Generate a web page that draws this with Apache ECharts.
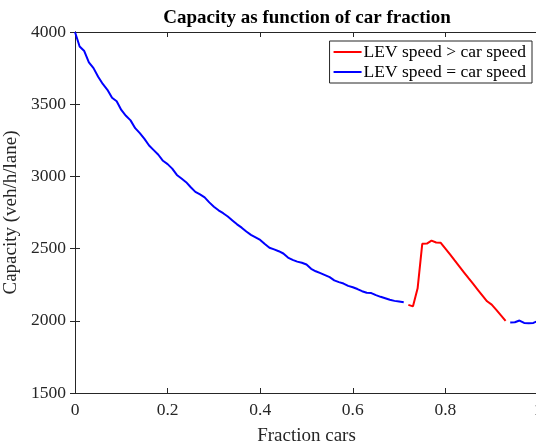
<!DOCTYPE html>
<html>
<head>
<meta charset="utf-8">
<script src="https://cdn.jsdelivr.net/npm/echarts@6/dist/echarts.min.js"></script>
<style>html,body{margin:0;padding:0;background:#fff;}#c{width:536px;height:445px;}</style>
</head>
<body>
<div id="c"></div>
<script>
// Data
const fractions = [];
for (let i = 0; i <= 100; i++) fractions.push(+(i / 100).toFixed(2));

const blueLow = [4000,3900,3868,3790,3750,3690,3640,3600,3545,3520,
  3460,3420,3388,3334,3300,3260,3214,3182,3150,3108,
  3085,3054,3010,2985,2960,2925,2893,2875,2855,2820,
  2790,2765,2745,2722,2695,2668,2645,2618,2595,2578,
  2560,2532,2506,2495,2482,2466,2438,2422,2410,2402,
  2390,2360,2343,2330,2316,2302,2280,2268,2258,2242,
  2232,2220,2205,2194,2192,2178,2166,2156,2146,2138,
  2133,2128]; // fractions 0.00 .. 0.71
const redValues = [2110,2100,2225,2533,2535,2555,2542,2540,2500,2460,
  2418,2377,2336,2295,2255,2215,2175,2135,2112,2075,2038,2000]; // 0.72 .. 0.93
const blueHigh = [1988,1990,2002,1985,1983,1985,2000]; // 0.94 .. 1.00

const xTicks = [0, 0.2, 0.4, 0.6, 0.8, 1];
const yTicks = [1500, 2000, 2500, 3000, 3500, 4000];

const blueData = [], redData = [];
fractions.forEach((f, i) => {
  let b = '-', r = '-';
  if (i <= 71) b = blueLow[i];
  else if (i <= 93) r = redValues[i - 72];
  else b = blueHigh[i - 94];
  blueData.push([f, b]);
  redData.push([f, r]);
});

const axisColor = '#262626';
const font = 'Liberation Serif';
const chart = echarts.init(document.getElementById('c'), null, {renderer: 'canvas'});
const xBase = {
  type: 'value', min: 0, max: 1, interval: 0.2,
  axisLine: {show: true, lineStyle: {color: axisColor, width: 1}},
  axisTick: {show: true, inside: true, length: 5, lineStyle: {color: axisColor}},
  splitLine: {show: false}
};
const yBase = {
  type: 'value', min: 1500, max: 4000, interval: 500,
  axisLine: {show: true, lineStyle: {color: axisColor, width: 1}},
  axisTick: {show: true, inside: true, length: 5, lineStyle: {color: axisColor}},
  splitLine: {show: false}
};
chart.setOption({
  backgroundColor: '#fff',
  animation: false,
  title: {
    text: 'Capacity as function of car fraction',
    left: 302, top: 4, textAlign: 'center',
    textStyle: {fontFamily: font, fontWeight: 'bold', fontSize: 19, color: '#000'}
  },
  grid: {left: 75, right: -2, top: 32, bottom: 52, outerBoundsMode: 'none', containLabel: false},
  legend: {
    orient: 'vertical', right: 4, top: 41,
    backgroundColor: '#fff', borderColor: axisColor, borderWidth: 1,
    padding: [2, 6, 2, 4], itemGap: 2, itemWidth: 28, itemHeight: 2,
    icon: 'rect',
    textStyle: {fontFamily: font, fontSize: 17.5, color: '#000', padding: [0, 0, 0, -3]},
    data: ['LEV speed > car speed', 'LEV speed = car speed']
  },
  xAxis: [
    Object.assign({}, xBase, {
      position: 'bottom',
      name: 'Fraction cars', nameLocation: 'middle', nameGap: 34,
      nameTextStyle: {fontFamily: font, fontSize: 19, color: axisColor},
      axisLabel: {fontFamily: font, fontSize: 17.5, color: axisColor, margin: 8,
        formatter: v => xTicks.includes(+v.toFixed(2)) ? String(+v.toFixed(2)) : ''}
    }),
    Object.assign({}, xBase, {position: 'top', axisLabel: {show: false}})
  ],
  yAxis: [
    Object.assign({}, yBase, {
      position: 'left',
      name: 'Capacity (veh/h/lane)', nameLocation: 'middle', nameGap: 44,
      nameTextStyle: {fontFamily: font, fontSize: 19, color: axisColor},
      axisLabel: {fontFamily: font, fontSize: 17.5, color: axisColor, margin: 9,
        formatter: v => yTicks.includes(v) ? String(v) : ''}
    }),
    Object.assign({}, yBase, {position: 'right', axisLabel: {show: false}})
  ],
  series: [
    {name: 'LEV speed > car speed', type: 'line', data: redData, showSymbol: false, symbol: 'none',
      connectNulls: false, lineStyle: {color: '#ff0000', width: 2}, itemStyle: {color: '#ff0000'}},
    {name: 'LEV speed = car speed', type: 'line', data: blueData, showSymbol: false, symbol: 'none',
      connectNulls: false, lineStyle: {color: '#0000ff', width: 2}, itemStyle: {color: '#0000ff'}}
  ]
});
</script>
</body>
</html>
